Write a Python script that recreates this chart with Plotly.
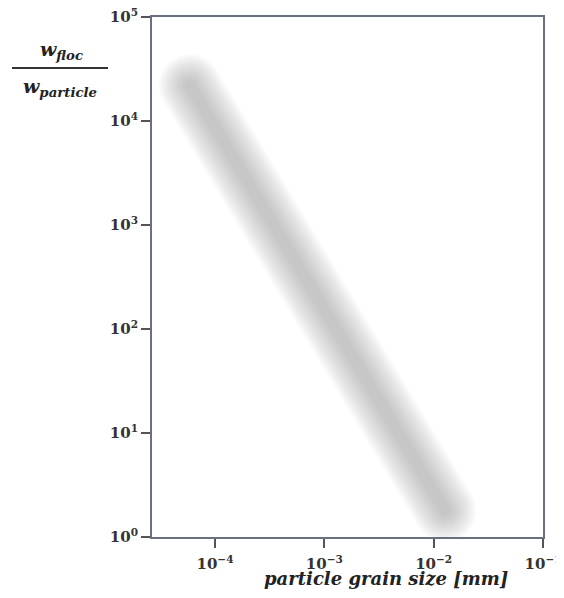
import plotly.graph_objects as go

# Data
grain_size = [5.9e-5, 1.27e-2]      # mm, band centre endpoints
ratio = [2.2e4, 1.8]                # w_floc / w_particle

x_tickvals = [1e-4, 1e-3, 1e-2, 1e-1]
x_ticktext = ["<b>10<sup>−4</sup></b>", "<b>10<sup>−3</sup></b>", "<b>10<sup>−2</sup></b>", "<b>10<sup>−1</sup></b>"]
y_tickvals = [1e0, 1e1, 1e2, 1e3, 1e4, 1e5]
y_ticktext = ["<b>10<sup>0</sup></b>", "<b>10<sup>1</sup></b>", "<b>10<sup>2</sup></b>",
              "<b>10<sup>3</sup></b>", "<b>10<sup>4</sup></b>", "<b>10<sup>5</sup></b>"]

FONT = "DejaVu Serif"
fig = go.Figure()

# blurred band: stacked translucent strokes
widths = list(range(62, 8, -4))
for w in widths:
    fig.add_trace(go.Scatter(
        x=grain_size, y=ratio, mode="lines+markers",
        line=dict(color="rgb(150,150,150)", width=w),
        marker=dict(color="rgb(150,150,150)", size=w, line=dict(width=0)),
        opacity=0.045, hoverinfo="skip", showlegend=False))

axis_common = dict(
    type="log", showgrid=False, zeroline=False, automargin=False,
    showline=True, linecolor="#6b7080", linewidth=2, mirror=True,
    ticks="outside", ticklen=9, tickwidth=2, tickcolor="#555555",
    ticklabeloverflow="allow",
    tickfont=dict(family=FONT, size=15, color="#333333"),
)

fig.update_xaxes(**axis_common, range=[-4.576, -1],
                 tickvals=x_tickvals, ticktext=x_ticktext,
                 ticklabelstandoff=3)
fig.update_yaxes(**axis_common, range=[0, 5],
                 tickvals=y_tickvals, ticktext=y_ticktext)

# x axis title
fig.add_annotation(xref="paper", yref="paper", x=0.598, y=-0.080,
                   xanchor="center", yanchor="middle",
                   text="<b><i>particle grain size [mm]</i></b>", showarrow=False,
                   font=dict(family=FONT, size=18, color="#222222"))

# y "title" as a fraction
fig.add_annotation(xref="paper", yref="paper", x=-0.232, y=0.935,
                   xanchor="center", yanchor="middle",
                   text="<b><i>w<sub>floc</sub></i></b>", showarrow=False,
                   font=dict(family=FONT, size=19, color="#222222"))
fig.add_annotation(xref="paper", yref="paper", x=-0.235, y=0.865,
                   xanchor="center", yanchor="middle",
                   text="<b><i>w<sub>particle</sub></i></b>", showarrow=False,
                   font=dict(family=FONT, size=19, color="#222222"))
fig.add_shape(type="line", xref="paper", yref="paper",
              x0=-0.358, x1=-0.1125, y0=0.902, y1=0.902,
              line=dict(color="#333333", width=2))

fig.update_layout(
    width=548, height=582,
    margin=dict(l=144, r=13, t=9, b=53),
    paper_bgcolor="white", plot_bgcolor="white",
)

fig.write_html("out.html")
